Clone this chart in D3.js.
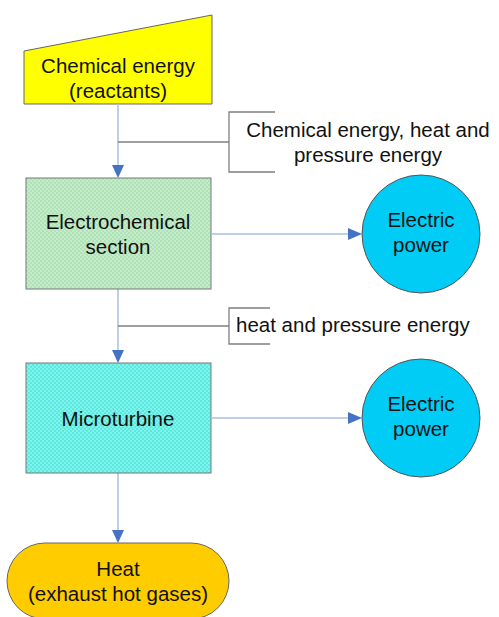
<!DOCTYPE html>
<html>
<head>
<meta charset="utf-8">
<script src="https://cdn.jsdelivr.net/npm/d3@7"></script>
<style>
  body { margin: 0; background: #fff; }
  svg text { font-family: "Liberation Sans", Arial, sans-serif; font-size: 20.5px; fill: #111; }
</style>
</head>
<body>
<svg id="chart" width="499" height="617"></svg>
<script>
// node labels (one line per entry)
const sourceLabel = ["Chemical energy", "(reactants)"];
const stageLabels = [["Electrochemical", "section"], ["Microturbine"]];
const outputLabels = [["Electric", "power"], ["Electric", "power"]];
const flowLabels = [["Chemical energy, heat and", "pressure energy"], ["heat and pressure energy"]];
const sinkLabel = ["Heat", "(exhaust hot gases)"];

const svg = d3.select("#chart");
const lineH = 25;

// layout
const colX = 118;          // main vertical flow
const boxL = 26, boxR = 211;
const stageTop = [178, 363], stageBot = [289, 473];
const circleX = 421, circleR = 59;
const stageFills = ["url(#greenTex)", "url(#cyanTex)"];

// textured fills
const defs = svg.append("defs");
function texture(id, c1, c2) {
  const p = defs.append("pattern").attr("id", id)
    .attr("width", 4).attr("height", 4).attr("patternUnits", "userSpaceOnUse");
  p.append("rect").attr("width", 4).attr("height", 4).attr("fill", c1);
  p.append("rect").attr("width", 2).attr("height", 2).attr("fill", c2);
  p.append("rect").attr("x", 2).attr("y", 2).attr("width", 2).attr("height", 2).attr("fill", c2);
}
texture("greenTex", "#c4ecc8", "#b0e2b8");
texture("cyanTex", "#7ef4ea", "#5ce8e0");

const flowCol = "#a9bfe0", headCol = "#4472c4";

function arrowDown(x, y0, y1) {
  svg.append("line").attr("x1", x).attr("x2", x).attr("y1", y0).attr("y2", y1 - 12)
    .attr("stroke", flowCol).attr("stroke-width", 1.5);
  svg.append("path").attr("d", d3.line()([[x - 6, y1 - 13], [x + 6, y1 - 13], [x, y1]]))
    .attr("fill", headCol);
}
function arrowRight(y, x0, x1) {
  svg.append("line").attr("y1", y).attr("y2", y).attr("x1", x0).attr("x2", x1 - 12)
    .attr("stroke", flowCol).attr("stroke-width", 1.5);
  svg.append("path").attr("d", d3.line()([[x1 - 14, y - 6], [x1 - 14, y + 6], [x1, y]]))
    .attr("fill", headCol);
}
function label(lines, x, y, anchor) {
  const t = svg.append("text").attr("text-anchor", anchor || "middle");
  lines.forEach((s, i) => t.append("tspan").attr("x", x).attr("y", y + i * lineH).text(s));
}

// source: manual input shape
svg.append("path")
  .attr("d", d3.line()([[24, 51], [212, 15], [212, 104], [24, 104]]) + "Z")
  .attr("fill", "#ffff00").attr("stroke", "#666").attr("stroke-width", 1);
label(sourceLabel, colX, 73);

// vertical flows
arrowDown(colX, 104, stageTop[0]);
arrowDown(colX, stageBot[0], stageTop[1]);
arrowDown(colX, stageBot[1], 543);

// annotation brackets
const brackets = [
  { y: 142, top: 112, bot: 172, end: 275, tx: 368, ty: 137, anchor: "middle" },
  { y: 326, top: 308, bot: 344, end: 270, tx: 236, ty: 332, anchor: "start" }
];
brackets.forEach((b, i) => {
  svg.append("line").attr("x1", colX).attr("x2", 229).attr("y1", b.y).attr("y2", b.y)
    .attr("stroke", "#7f7f7f").attr("stroke-width", 1.3);
  svg.append("path").attr("d", d3.line()([[b.end, b.top], [229, b.top], [229, b.bot], [b.end, b.bot]]))
    .attr("fill", "none").attr("stroke", "#7f7f7f").attr("stroke-width", 1.3);
  label(flowLabels[i], b.tx, b.ty, b.anchor);
});

// stages + outputs
stageLabels.forEach((lines, i) => {
  const mid = (stageTop[i] + stageBot[i]) / 2;
  svg.append("rect").attr("x", boxL).attr("y", stageTop[i])
    .attr("width", boxR - boxL).attr("height", stageBot[i] - stageTop[i])
    .attr("fill", stageFills[i]).attr("stroke", "#777").attr("stroke-width", 1);
  label(lines, colX, mid + 7.5 - (lines.length - 1) * lineH / 2);
  const cy = i === 0 ? 234 : 418;
  arrowRight(cy, boxR, circleX - circleR);
  svg.append("circle").attr("cx", circleX).attr("cy", cy).attr("r", circleR)
    .attr("fill", "#00ccf5").attr("stroke", "#555").attr("stroke-width", 1);
  label(outputLabels[i], circleX, cy - 7);
});

// sink: terminator
svg.append("rect").attr("x", 7).attr("y", 543).attr("width", 222).attr("height", 76)
  .attr("rx", 38).attr("ry", 38)
  .attr("fill", "#ffcc00").attr("stroke", "#666").attr("stroke-width", 1);
label(sinkLabel, colX, 576);
</script>
</body>
</html>
